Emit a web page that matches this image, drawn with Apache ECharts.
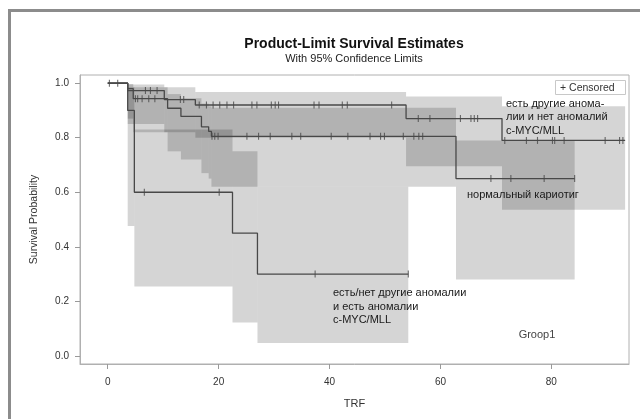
<!DOCTYPE html>
<html><head><meta charset="utf-8">
<script src="https://cdn.jsdelivr.net/npm/echarts@6/dist/echarts.min.js"></script>
<style>html,body{margin:0;padding:0;background:#fff}#c{width:640px;height:419px}</style>
</head><body><div id="c"></div>
<script>
// ---- data ----
const xTicks = [0, 20, 40, 60, 80];
const yTicks = [0, 0.2, 0.4, 0.6, 0.8, 1.0];

// curve A: есть другие аномалии и нет аномалий c-MYC/MLL
const aTimes = [0, 3.6, 10.2, 15.8, 53.8, 71.1];
const aSurv  = [1, 0.973, 0.94, 0.92, 0.87, 0.79];
const aLower = [1, 0.85, 0.82, 0.80, 0.695, 0.536];
const aUpper = [1, 0.995, 0.985, 0.968, 0.951, 0.915];
const aEnd = 93.3;
const aCens = [0.3, 1.8, 6.8, 7.7, 8.9, 13.1, 13.7, 16.5, 17.8, 19.0, 20.2, 21.5, 22.7, 26.0, 26.9, 29.5, 30.2, 30.8, 37.2, 38.1, 42.3, 43.2, 51.2, 56.0, 58.1, 63.6, 65.5, 66.1, 66.7, 71.6, 75.5, 77.5, 80.2, 80.6, 82.3, 89.7, 92.3, 92.9];

// curve B: нормальный кариотиг
const bTimes = [0, 3.6, 4.6, 10.8, 13.2, 16.9, 18.2, 18.7, 62.8];
const bSurv  = [1, 0.98, 0.943, 0.908, 0.878, 0.84, 0.823, 0.805, 0.65];
const bLower = [1, 0.87, 0.82, 0.75, 0.72, 0.67, 0.65, 0.62, 0.28];
const bUpper = [1, 0.997, 0.985, 0.96, 0.945, 0.925, 0.915, 0.91, 0.79];
const bEnd = 84.2;
const bCens = [5.0, 5.4, 6.2, 7.4, 8.5, 18.8, 19.3, 19.9, 25.1, 27.2, 29.3, 33.2, 34.8, 40.3, 43.3, 47.3, 49.2, 49.9, 53.3, 55.2, 56.1, 56.8, 69.1, 72.7, 78.7, 84.2];

// curve C: есть/нет другие аномалии и есть аномалии c-MYC/MLL
const cTimes = [0, 3.6, 4.8, 22.5, 27.0];
const cSurv  = [1, 0.9, 0.6, 0.45, 0.3];
const cLower = [1, 0.476, 0.254, 0.122, 0.047];
const cUpper = [1, 0.985, 0.83, 0.75, 0.62];
const cEnd = 54.2;
const cCens = [6.6, 20.1, 37.4, 54.2];

// ---- build ----
function stepLine(t, s, end) {
  const d = t.map((x, i) => [x, s[i]]);
  d.push([end, s[s.length - 1]]);
  return d;
}
function bandRows(t, lo, up, end) {
  const rows = [];
  for (let i = 0; i < t.length; i++) {
    const x1 = i + 1 < t.length ? t[i + 1] : end;
    if (up[i] - lo[i] > 0) rows.push([t[i], x1, lo[i], up[i]]);
  }
  return rows;
}
function survAt(t, s, x) {
  let v = s[0];
  for (let i = 0; i < t.length; i++) if (t[i] <= x) v = s[i];
  return v;
}
function cens(t, s, c) { return c.map(x => [x, survAt(t, s, x)]); }

const bandColor = 'rgba(0,0,0,0.165)';
function bandSeries(rows) {
  return {
    type: 'custom', data: rows, silent: true, z: 1,
    renderItem: function (params, api) {
      const p0 = api.coord([api.value(0), api.value(3)]);
      const p1 = api.coord([api.value(1), api.value(2)]);
      return { type: 'rect', shape: { x: p0[0], y: p0[1], width: p1[0] - p0[0], height: p1[1] - p0[1] },
               style: { fill: bandColor } };
    }
  };
}
const lineColor = '#484848';
function lineSeries(d) {
  return { type: 'line', step: 'end', data: d, showSymbol: false, silent: true, z: 3,
           lineStyle: { color: lineColor, width: 1.3 } };
}
function censSeries(d) {
  return { type: 'scatter', data: d, symbol: 'rect', symbolSize: [1.1, 7], silent: true, z: 4,
           itemStyle: { color: lineColor } };
}

const FONT = 'Liberation Sans, Arial, sans-serif';
const chart = echarts.init(document.getElementById('c'), null, { renderer: 'canvas' });
chart.setOption({
  animation: false,
  backgroundColor: '#fff',
  grid: { left: 80, right: 11, top: 75, bottom: 55, show: true, borderColor: '#b0b0b0', borderWidth: 1 },
  xAxis: {
    type: 'value', min: -5, max: 94,
    name: 'TRF', nameLocation: 'middle', nameGap: 34,
    nameTextStyle: { fontFamily: FONT, fontSize: 11, color: '#333' },
    axisLine: { show: true, onZero: false, lineStyle: { color: '#b0b0b0' } },
    axisTick: { show: true, length: 5, lineStyle: { color: '#999' }, customValues: xTicks },
    axisLabel: { fontFamily: FONT, fontSize: 10, color: '#333', margin: 13, customValues: xTicks },
    splitLine: { show: false }
  },
  yAxis: {
    type: 'value', min: -0.03, max: 1.03,
    name: 'Survival Probability', nameLocation: 'middle', nameGap: 40, nameRotate: 90,
    nameTextStyle: { fontFamily: FONT, fontSize: 10.5, color: '#333' },
    axisLine: { show: true, onZero: false, lineStyle: { color: '#b0b0b0' } },
    axisTick: { show: true, length: 5, lineStyle: { color: '#999' }, customValues: yTicks },
    axisLabel: { fontFamily: FONT, fontSize: 10, color: '#333', margin: 11, customValues: yTicks,
                 formatter: v => v.toFixed(1) },
    splitLine: { show: false }
  },
  graphic: [
    { type: 'rect', shape: { x: 9.5, y: 10.5, width: 640, height: 420 }, style: { fill: 'none', stroke: '#8c8c8c', lineWidth: 3 }, z: 100, silent: true },
    { type: 'text', x: 354, y: 44, style: { text: 'Product-Limit Survival Estimates', font: 'bold 14px ' + FONT, fill: '#111', align: 'center', verticalAlign: 'middle' } },
    { type: 'text', x: 354, y: 59, style: { text: 'With 95% Confidence Limits', font: '11px ' + FONT, fill: '#222', align: 'center', verticalAlign: 'middle' } },
    { type: 'rect', shape: { x: 555.5, y: 80.5, width: 70, height: 14 }, style: { fill: '#fff', stroke: '#c8c8c8', lineWidth: 1 }, z: 50 },
    { type: 'text', x: 560, y: 88, z: 51, style: { text: '+ Censored', font: '10.5px ' + FONT, fill: '#333', verticalAlign: 'middle' } },
    { type: 'text', x: 506, y: 97.5, z: 60, style: { text: 'есть другие анома-\nлии и нет аномалий\nc-MYC/MLL', font: '11px ' + FONT, fill: '#1a1a1a', lineHeight: 13.3, verticalAlign: 'top' } },
    { type: 'text', x: 467, y: 195, z: 60, style: { text: 'нормальный кариотиг', font: '11px ' + FONT, fill: '#1a1a1a', verticalAlign: 'middle' } },
    { type: 'text', x: 333, y: 286.5, z: 60, style: { text: 'есть/нет другие аномалии\nи есть аномалии\nc-MYC/MLL', font: '11px ' + FONT, fill: '#1a1a1a', lineHeight: 13.5, verticalAlign: 'top' } },
    { type: 'text', x: 537, y: 335, z: 60, style: { text: 'Groop1', font: '11px ' + FONT, fill: '#444', align: 'center', verticalAlign: 'middle' } }
  ],
  series: [
    bandSeries(bandRows(cTimes, cLower, cUpper, cEnd)),
    bandSeries(bandRows(bTimes, bLower, bUpper, bEnd)),
    bandSeries(bandRows(aTimes, aLower, aUpper, aEnd)),
    lineSeries(stepLine(cTimes, cSurv, cEnd)),
    lineSeries(stepLine(bTimes, bSurv, bEnd)),
    lineSeries(stepLine(aTimes, aSurv, aEnd)),
    censSeries(cens(cTimes, cSurv, cCens)),
    censSeries(cens(bTimes, bSurv, bCens)),
    censSeries(cens(aTimes, aSurv, aCens))
  ]
});
</script></body></html>
